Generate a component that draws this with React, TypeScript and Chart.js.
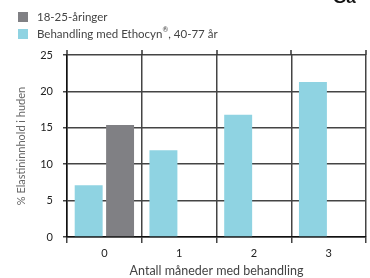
import React, { useEffect, useRef } from "react";
import { Chart, registerables } from "chart.js";

Chart.register(...registerables);

const categories = ["0", "1", "2", "3"];
const treatmentValues = [7.1, 11.9, 16.8, 21.3];
const youngValues = [15.4, null, null, null];
const yTicks = [0, 5, 10, 15, 20, 25];
const legendLabels = ["18-25-åringer", "Behandling med Ethocyn", "®", ", 40-77 år"];
const yTitle = "% Elastininnhold i huden";
const xTitle = "Antall måneder med behandling";

const TEAL = "#8fd3e2";
const GREY = "#808084";
const FONT = "Lato, 'Open Sans', sans-serif";

export default function App() {
  const ref = useRef<HTMLCanvasElement>(null);
  useEffect(() => {
    document.body.style.margin = "0";
    const extend = {
      id: "extend",
      afterDraw(chart: any) {
        const { ctx, chartArea } = chart;
        const n = categories.length;
        const w = (chartArea.right - chartArea.left) / n;
        ctx.save();
        ctx.strokeStyle = "#333";
        ctx.lineWidth = 1.5;
        for (let i = 0; i <= n; i++) {
          const x = Math.round(chartArea.left + i * w);
          ctx.beginPath();
          ctx.moveTo(x, chartArea.top);
          ctx.lineTo(x, chartArea.top - 5);
          ctx.stroke();
        }
        ctx.restore();
      },
    };
    const chart = new Chart(ref.current!, {
      type: "bar",
      data: {
        labels: categories,
        datasets: [
          { label: legendLabels[1] + legendLabels[2] + legendLabels[3], data: treatmentValues, backgroundColor: TEAL },
          { label: legendLabels[0], data: youngValues as any, backgroundColor: GREY },
        ],
      },
      options: {
        animation: false,
        responsive: false,
        maintainAspectRatio: false,
        layout: { padding: { top: 55, right: 4, left: 11, bottom: 0 } },
        plugins: { legend: { display: false }, tooltip: { enabled: false } },
        datasets: { bar: { categoryPercentage: 0.84, barPercentage: 0.89 } },
        scales: {
          x: {
            grid: { offset: true, color: "#444", lineWidth: 1.5, tickLength: 6, drawOnChartArea: true },
            border: { color: "#111", width: 1.5 },
            ticks: { color: "#222", font: { family: FONT, size: 11 }, padding: 4 },
            title: { display: true, text: xTitle, color: "#444", font: { family: FONT, size: 12.5 }, padding: { top: 0, bottom: 0 } },
            afterFit(scale: any) { scale.height = 41; },
          },
          y: {
            min: 0,
            max: 25,
            afterBuildTicks(scale: any) { scale.ticks = yTicks.map((v) => ({ value: v })); },
            grid: { color: "#444", lineWidth: 1.5, tickLength: 4 },
            border: { color: "#111", width: 1.5 },
            ticks: { color: "#222", font: { family: FONT, size: 11 }, padding: 10 },
            title: { display: true, text: yTitle, color: "#666", font: { family: FONT, size: 11 }, padding: { top: 4, bottom: 4 } },
            afterFit(scale: any) { scale.width = 56; },
          },
        },
      },
      plugins: [extend],
    });
    return () => chart.destroy();
  }, []);

  const sq = (c: string) => ({ display: "inline-block", width: 10, height: 10, background: c, marginRight: 9 });
  return (
    <div style={{ position: "relative", width: 370, height: 278, overflow: "hidden", fontFamily: FONT }}>
      <canvas ref={ref} width={370} height={278} style={{ position: "absolute", left: 0, top: 0 }} />
      <div style={{ position: "absolute", left: 18, top: 8, fontSize: 11.5, color: "#444", lineHeight: "17px" }}>
        <div style={{ display: "flex", alignItems: "center" }}><span style={sq(GREY)} />{legendLabels[0]}</div>
        <div style={{ display: "flex", alignItems: "center" }}>
          <span style={sq(TEAL)} />
          {legendLabels[1]}
          <span style={{ fontSize: 7, position: "relative", top: -4 }}>{legendLabels[2]}</span>
          {legendLabels[3]}
        </div>
      </div>
      <div style={{ position: "absolute", left: 333, top: -12, fontSize: 17, fontWeight: 700, color: "#111", fontFamily: "'Liberation Sans', Arial, sans-serif" }}>Ga</div>
    </div>
  );
}
